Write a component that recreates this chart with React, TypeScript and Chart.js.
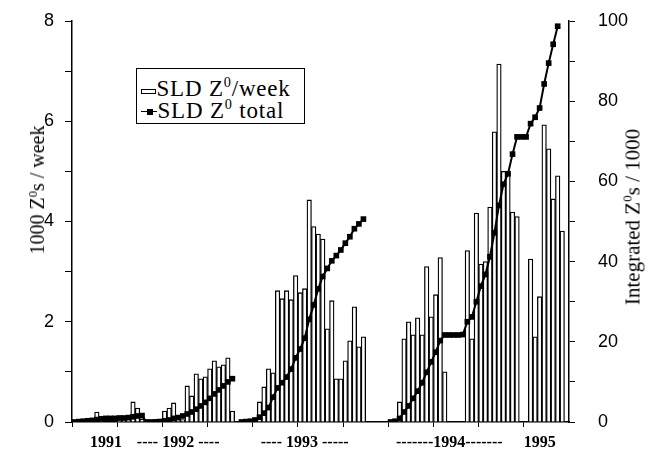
import React, { useEffect, useRef } from "react";
import { Chart, registerables } from "chart.js";

Chart.register(...registerables);

// Weekly SLD Z0 production (thousands per week); null = no running that week
const weeklyBars: (number | null)[] = [
  0.03, 0.03, 0.04, 0.04, 0.06, 0.2, 0.08, null, null, null,
  0.03, 0.05, 0.06, 0.4, 0.28, 0.06, null, null, 0.03, 0.06,
  0.22, 0.28, 0.38, 0.08, 0.05, 0.72, 0.52, 0.96, 0.86, 0.9,
  1.06, 1.22, 1.1, 1.14, 1.28, 0.22, null, null, 0.03, 0.05,
  0.08, 0.4, 0.7, 1.06, 0.98, 2.62, 2.46, 2.62, 2.44, 2.92,
  2.58, 2.66, 4.43, 3.9, 3.75, 3.65, 1.86, 2.42, 0.86, 0.86,
  1.22, 1.62, 2.3, 1.5, 1.7, null, null, null, null, null,
  null, 0.05, 0.4, 1.66, 2.0, 1.74, 2.08, 1.74, 3.1, 2.1,
  2.54, 3.28, 1.0, null, null, null, null, 3.42, 1.66, 4.17,
  3.15, 3.2, 4.29, 5.79, 7.14, 5.0, 5.0, 4.19, 4.1, null,
  null, 3.25, 1.7, 2.5, 5.93, 5.45, 4.45, 4.91, 3.81, null,
];

// Integrated SLD Z0 total (thousands), right axis
const totalLine: (number | null)[] = [
  0, 0.1, 0.2, 0.3, 0.4, 0.6, 0.8, 0.9, 0.9, 0.9,
  1.0, 1.0, 1.1, 1.3, 1.5, 1.6, 0, 0, 0.05, 0.1,
  0.3, 0.5, 0.9, 1.1, 1.5, 2.0, 2.5, 3.2, 4.0, 4.9,
  5.9, 7.0, 8.0, 9.0, 10.0, 10.8, null, 0, 0.1, 0.2,
  0.5, 1.2, 2.2, 3.6, 6.2, 8.5, 9.8, 11.2, 13.2, 16.0,
  18.2, 20.9, 25.6, 29.2, 33.2, 36.3, 38.3, 40.2, 41.5, 42.9,
  44.6, 46.2, 48.2, 49.4, 50.6, null, null, null, null, null,
  0, 0.2, 0.9, 2.5, 4.0, 5.9, 7.7, 9.8, 12.4, 15.0,
  17.4, 20.3, 21.7, 21.7, 21.7, 21.7, 21.8, 25.0, 26.2, 30.0,
  33.9, 36.8, 41.2, 47.2, 54.0, 59.3, 61.9, 66.8, 71.1, 71.1,
  71.1, 74.4, 76.0, 78.3, 84.3, 89.5, 94.2, 98.7, null, null,
];

const periodLabels = ["1991", "---- 1992 ----", "---- 1993 -----", "-------1994-------", "1995"];
const periodWeeks = [7, 23, 51, 83, 103];

const weeks = weeklyBars.map((_, i) => `week ${i + 1}`);

const SERIF = '"Liberation Serif", "Times New Roman", serif';
const SANS = '"Liberation Sans", Arial, sans-serif';

const supStyle: React.CSSProperties = {
  fontSize: "0.62em",
  verticalAlign: "0.6em",
  lineHeight: 0,
};

export default function App() {
  const ref = useRef<HTMLCanvasElement>(null);

  useEffect(() => {
    const chart = new Chart(ref.current as HTMLCanvasElement, {
      type: "bar",
      data: {
        labels: weeks,
        datasets: [
          {
            type: "line",
            label: "SLD Z0 total",
            data: totalLine,
            yAxisID: "y1",
            borderColor: "#000",
            borderWidth: 2,
            pointStyle: "rect",
            pointRadius: 4,
            pointBackgroundColor: "#000",
            pointBorderColor: "#000",
            pointBorderWidth: 0,
            spanGaps: false,
            tension: 0,
            order: 0,
          } as any,
          {
            type: "bar",
            label: "SLD Z0/week",
            data: weeklyBars,
            yAxisID: "y",
            backgroundColor: "#fff",
            borderColor: "#000",
            borderWidth: 1.3,
            barPercentage: 1,
            categoryPercentage: 1,
            order: 1,
          } as any,
        ],
      },
      options: {
        animation: false,
        responsive: false,
        layout: { autoPadding: false, padding: { top: 21, left: 0, right: 0, bottom: 0 } },
        plugins: { legend: { display: false }, tooltip: { enabled: false } },
        scales: {
          x: {
            offset: true,
            grid: {
              drawOnChartArea: false,
              drawTicks: true,
              tickLength: 5,
              offset: true,
              color: (ctx: any) =>
                typeof ctx.index === "number" && ctx.index % 10 === 0 ? "#000" : "rgba(0,0,0,0)",
            },
            border: { display: true, color: "#000", width: 1.5 },
            ticks: {
              autoSkip: false,
              maxRotation: 0,
              minRotation: 0,
              padding: 6,
              color: "#000",
              font: { family: SERIF, size: 16, weight: "bold" },
              callback: (_v: any, index: number) => {
                const k = periodWeeks.indexOf(index);
                return k >= 0 ? periodLabels[k] : "";
              },
            },
            afterFit: (s: any) => {
              s.height = 34;
              s.paddingLeft = 0;
              s.paddingRight = 0;
              s.paddingTop = 0;
              s.paddingBottom = 0;
            },
          },
          y: {
            position: "left",
            min: 0,
            max: 8,
            grid: { drawOnChartArea: false, tickLength: 7, color: "#000" },
            border: { display: true, color: "#000", width: 1.5 },
            ticks: {
              stepSize: 1,
              padding: 11,
              color: "#000",
              font: { family: SANS, size: 18 },
              callback: (v: any) => (Number(v) % 2 === 0 ? String(v) : ""),
            },
            afterFit: (s: any) => {
              s.width = 72;
              s.paddingTop = 0;
              s.paddingBottom = 0;
            },
          },
          y1: {
            position: "right",
            min: 0,
            max: 100,
            grid: { drawOnChartArea: false, tickLength: 6, color: "#000" },
            border: { display: true, color: "#000", width: 1.5 },
            ticks: {
              stepSize: 10,
              padding: 23,
              color: "#000",
              font: { family: SANS, size: 18 },
              callback: (v: any) => (Number(v) % 20 === 0 ? String(v) : ""),
            },
            afterFit: (s: any) => {
              s.width = 84;
              s.paddingTop = 0;
              s.paddingBottom = 0;
            },
          },
        },
      } as any,
    });
    return () => chart.destroy();
  }, []);

  const legendText: React.CSSProperties = {
    position: "absolute",
    font: `23px ${SERIF}`,
    lineHeight: "23px",
    letterSpacing: "0.8px",
    whiteSpace: "nowrap",
    color: "#000",
  };

  return (
    <div
      style={{
        position: "fixed",
        left: 0,
        top: 0,
        width: 653,
        height: 456,
        background: "#fff",
        overflow: "hidden",
      }}
    >
      <canvas ref={ref} width={653} height={456} style={{ display: "block" }} />
      <div
        style={{
          position: "absolute",
          left: 37,
          top: 190,
          transform: "translate(-50%,-50%) rotate(-90deg)",
          font: `20px ${SERIF}`,
          lineHeight: 1,
          whiteSpace: "nowrap",
          color: "#000",
        }}
      >
        1000 Z<sup style={supStyle}>0</sup>s / week
      </div>
      <div
        style={{
          position: "absolute",
          left: 633,
          top: 217,
          transform: "translate(-50%,-50%) rotate(-90deg)",
          font: `21px ${SERIF}`,
          lineHeight: 1,
          whiteSpace: "nowrap",
          color: "#000",
        }}
      >
        Integrated Z<sup style={supStyle}>0</sup>s / 1000
      </div>
      <div
        style={{
          position: "absolute",
          left: 136,
          top: 68,
          width: 169,
          height: 56,
          border: "1.5px solid #000",
          boxSizing: "border-box",
          background: "#fff",
        }}
      >
        <div
          style={{
            position: "absolute",
            left: 3.5,
            top: 19.5,
            width: 15,
            height: 5,
            border: "1.5px solid #000",
            background: "#fff",
            boxSizing: "border-box",
          }}
        />
        <div style={{ ...legendText, left: 19.5, top: 8 }}>
          SLD Z<sup style={supStyle}>0</sup>/week
        </div>
        <div
          style={{
            position: "absolute",
            left: 3.5,
            top: 41.8,
            width: 16,
            height: 1.5,
            background: "#000",
          }}
        />
        <div
          style={{
            position: "absolute",
            left: 9.5,
            top: 39.5,
            width: 6,
            height: 6,
            background: "#000",
          }}
        />
        <div style={{ ...legendText, left: 20.5, top: 30 }}>
          SLD Z<sup style={supStyle}>0</sup> total
        </div>
      </div>
    </div>
  );
}
